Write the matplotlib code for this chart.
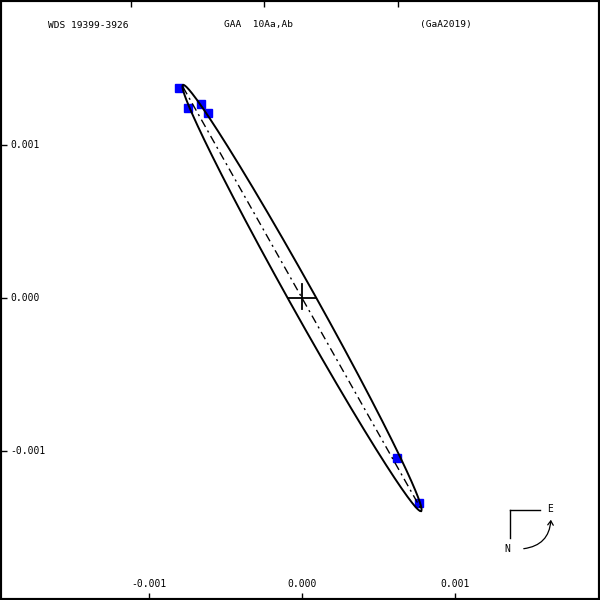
import numpy as np
import matplotlib
matplotlib.use("Agg")
import matplotlib.pyplot as plt
from matplotlib.patches import FancyArrowPatch

# ---- data (units: arcsec) ----
obs_x = [-0.000805, -0.000748, -0.000663, -0.000615, 0.000621, 0.000765]
obs_y = [0.001370, 0.001242, 0.001268, 0.001209, -0.001046, -0.001340]

orbit_center = (0.0, 0.0)
orbit_a = 0.001595          # apparent semi-major
orbit_b = 0.000082          # apparent semi-minor
orbit_theta_deg = -60.8     # orientation of apparent major axis
node_end = (-0.000778, 0.001379)  # line-of-nodes end point (through origin)

xtick_vals = [-0.001, 0.0, 0.001]
xtick_labels = ["-0.001", "0.000", "0.001"]
ytick_vals = [0.001, 0.0, -0.001]
ytick_labels = ["0.001", "0.000", "-0.001"]
top_tick_vals = [-0.001118, -0.000248, 0.000627]

title_left = "WDS 19399-3926"
title_mid = "GAA  10Aa,Ab"
title_right = "(GaA2019)"

# ---- figure ----
fig = plt.figure(figsize=(6, 6), dpi=100)
ax = fig.add_axes([0, 0, 1, 1])
sc = 0.001 / 153.0
ax.set_xlim(-302 * sc, 298 * sc)
ax.set_ylim(-302 * sc, 298 * sc)

for s in ax.spines.values():
    s.set_linewidth(3.0)
    s.set_color("black")

ax.set_xticks(xtick_vals)
ax.set_yticks(ytick_vals)
ax.tick_params(direction="in", length=5, width=1.0, labelbottom=False,
               labelleft=False, top=False, right=False)
sec = ax.secondary_xaxis("top")
sec.set_xticks(top_tick_vals)
sec.tick_params(direction="in", length=5, width=1.0, labeltop=False)
sec.spines["top"].set_visible(False)

mono = "DejaVu Sans Mono"
for v, lab in zip(xtick_vals, xtick_labels):
    ax.text(v, 16 / 600, lab, transform=ax.get_xaxis_transform(),
            ha="center", va="center", fontsize=7, family=mono)
for v, lab in zip(ytick_vals, ytick_labels):
    ax.text(10 / 600, v, lab, transform=ax.get_yaxis_transform(),
            ha="left", va="center", fontsize=7, family=mono)

ty = 1 - 25 / 600
ax.text(88 / 600, ty, title_left, transform=ax.transAxes, ha="center",
        va="center", fontsize=6.8, family=mono)
ax.text(258 / 600, ty, title_mid, transform=ax.transAxes, ha="center",
        va="center", fontsize=6.8, family=mono)
ax.text(446 / 600, ty, title_right, transform=ax.transAxes, ha="center",
        va="center", fontsize=6.8, family=mono)

# orbit ellipse
t = np.linspace(0, 2 * np.pi, 721)
th = np.deg2rad(orbit_theta_deg)
ex = orbit_center[0] + orbit_a * np.cos(t) * np.cos(th) - orbit_b * np.sin(t) * np.sin(th)
ey = orbit_center[1] + orbit_a * np.cos(t) * np.sin(th) + orbit_b * np.sin(t) * np.cos(th)
ax.plot(ex, ey, color="black", lw=1.4, zorder=3)

# line of nodes
ax.plot([node_end[0], -node_end[0]], [node_end[1], -node_end[1]], color="black",
        lw=1.0, linestyle=(0, (6, 3, 1.5, 3)), zorder=3)

# primary cross
cr = 14 * sc
ax.plot([-cr, cr], [0, 0], color="black", lw=1.3, zorder=4)
ax.plot([0, 0], [-cr * 0.75, cr], color="black", lw=1.3, zorder=4)

# observations
ax.plot(obs_x, obs_y, linestyle="none", marker="s", markersize=6.3,
        markerfacecolor="#0000ff", markeredgecolor="#0000ff", zorder=2)

# compass
tr = fig.transFigure
def P(px, py):
    return (px / 600, 1 - py / 600)
fig.add_artist(plt.Line2D([P(510, 0)[0], P(540, 0)[0]], [P(0, 510)[1]] * 2,
                          transform=tr, color="black", lw=1.0))
fig.add_artist(plt.Line2D([P(510, 0)[0]] * 2, [P(0, 510)[1], P(0, 538)[1]],
                          transform=tr, color="black", lw=1.0))
fig.text(*P(550, 509), "E", transform=tr, ha="center", va="center",
         fontsize=7, family=mono)
fig.text(*P(507, 549), "N", transform=tr, ha="center", va="center",
         fontsize=7, family=mono)
arr = FancyArrowPatch(P(521, 549), P(551, 517), transform=tr,
                      connectionstyle="arc3,rad=0.45", arrowstyle="->,head_length=3,head_width=2",
                      color="black", lw=0.9)
fig.add_artist(arr)

fig.savefig("out.png", dpi=100, facecolor="white")
